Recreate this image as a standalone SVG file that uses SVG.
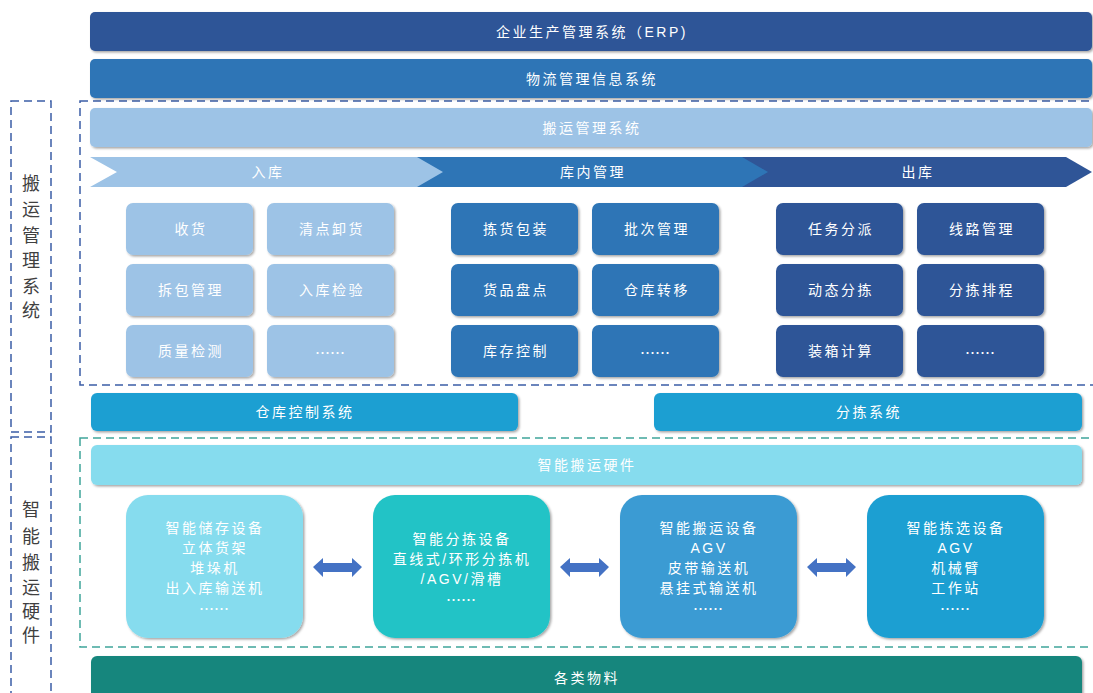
<svg xmlns="http://www.w3.org/2000/svg" width="1093" height="693" viewBox="0 0 1093 693">
  <defs>
    <filter id="shadow" x="-5%" y="-20%" width="110%" height="150%">
      <feDropShadow dx="1.5" dy="1.5" stdDeviation="1.2" flood-color="#000" flood-opacity="0.35"/>
    </filter>
  </defs>
  <style>
    text { font-family: "Liberation Sans", "Noto Sans CJK SC", sans-serif; }
    .lbl { fill: #ffffff; font-size: 14px; letter-spacing: 2.5px; text-anchor: middle; dominant-baseline: central; }
    .hw { fill: #ffffff; font-size: 14px; letter-spacing: 2.5px; text-anchor: middle; dominant-baseline: central; }
    .dots { font-family: "Noto Sans CJK SC", sans-serif; letter-spacing: 0; font-size: 15px; }
    .side { fill: #404040; font-size: 18px; text-anchor: middle; dominant-baseline: central; }
    .bar { filter: url(#shadow); }
    .box { filter: url(#shadow); }
    .dash-blue { fill: none; stroke: #3b5ea6; stroke-width: 1.5; stroke-dasharray: 8 5; }
    .dash-teal { fill: none; stroke: #3fa59b; stroke-width: 1.5; stroke-dasharray: 8 5; }
    .in { fill: #9dc3e6; }
    .mid { fill: #2e75b6; }
    .out { fill: #2f5597; }
    .arrow { fill: #4472c4; }
  </style>

  <!-- side group frames -->
  <g id="side-mgmt">
    <rect class="dash-blue" x="11" y="101" width="40" height="331"/>
    <text class="side" x="31" y="184">搬</text>
    <text class="side" x="31" y="210">运</text>
    <text class="side" x="31" y="236">管</text>
    <text class="side" x="31" y="261">理</text>
    <text class="side" x="31" y="287">系</text>
    <text class="side" x="31" y="311">统</text>
  </g>
  <g id="side-hw">
    <rect class="dash-blue" x="11" y="437" width="40" height="260"/>
    <text class="side" x="31" y="510">智</text>
    <text class="side" x="31" y="537">能</text>
    <text class="side" x="31" y="563">搬</text>
    <text class="side" x="31" y="588">运</text>
    <text class="side" x="31" y="612">硬</text>
    <text class="side" x="31" y="636">件</text>
  </g>

  <!-- frames around the two layers -->
  <rect id="frame-mgmt" class="dash-blue" x="80" y="101" width="1030" height="284"/>
  <rect id="frame-hw" class="dash-teal" x="80" y="438" width="1030" height="209"/>

  <!-- top system bars -->
  <g id="erp">
    <rect class="bar" x="90" y="12" width="1002" height="39" rx="5" fill="#2f5597"/>
    <text class="lbl" x="592" y="32">企业生产管理系统（ERP)</text>
  </g>
  <g id="wms-info">
    <rect class="bar" x="90" y="59" width="1002" height="39" rx="5" fill="#2e75b6"/>
    <text class="lbl" x="592" y="79">物流管理信息系统</text>
  </g>
  <g id="handling-mgmt">
    <rect class="bar" x="90" y="108" width="1002" height="39" rx="5" fill="#9dc3e6"/>
    <text class="lbl" x="592" y="128">搬运管理系统</text>
  </g>

  <!-- process chevrons -->
  <g id="stage-out">
    <polygon class="out" points="742,157 1066,157 1092,172 1066,187 742,187"/>
    <text class="lbl" x="918" y="172">出库</text>
  </g>
  <g id="stage-mid">
    <polygon class="mid" points="417,157 742,157 768,172 742,187 417,187"/>
    <text class="lbl" x="593" y="172">库内管理</text>
  </g>
  <g id="stage-in">
    <polygon class="in" points="90,157 417,157 443,172 417,187 90,187 117,172"/>
    <text class="lbl" x="268" y="172">入库</text>
  </g>

  <!-- inbound functions -->
  <g id="in-1"><rect class="box in" x="126" y="203" width="127" height="52" rx="7"/><text class="lbl" x="191" y="229">收货</text></g>
  <g id="in-2"><rect class="box in" x="267" y="203" width="127" height="52" rx="7"/><text class="lbl" x="332" y="229">清点卸货</text></g>
  <g id="in-3"><rect class="box in" x="126" y="264" width="127" height="52" rx="7"/><text class="lbl" x="191" y="290">拆包管理</text></g>
  <g id="in-4"><rect class="box in" x="267" y="264" width="127" height="52" rx="7"/><text class="lbl" x="332" y="290">入库检验</text></g>
  <g id="in-5"><rect class="box in" x="126" y="325" width="127" height="52" rx="7"/><text class="lbl" x="191" y="351">质量检测</text></g>
  <g id="in-6"><rect class="box in" x="267" y="325" width="127" height="52" rx="7"/><text class="lbl dots" x="330" y="352">……</text></g>

  <!-- in-warehouse functions -->
  <g id="mid-1"><rect class="box mid" x="451" y="203" width="127" height="52" rx="7"/><text class="lbl" x="516" y="229">拣货包装</text></g>
  <g id="mid-2"><rect class="box mid" x="592" y="203" width="127" height="52" rx="7"/><text class="lbl" x="657" y="229">批次管理</text></g>
  <g id="mid-3"><rect class="box mid" x="451" y="264" width="127" height="52" rx="7"/><text class="lbl" x="516" y="290">货品盘点</text></g>
  <g id="mid-4"><rect class="box mid" x="592" y="264" width="127" height="52" rx="7"/><text class="lbl" x="657" y="290">仓库转移</text></g>
  <g id="mid-5"><rect class="box mid" x="451" y="325" width="127" height="52" rx="7"/><text class="lbl" x="516" y="351">库存控制</text></g>
  <g id="mid-6"><rect class="box mid" x="592" y="325" width="127" height="52" rx="7"/><text class="lbl dots" x="655" y="352">……</text></g>

  <!-- outbound functions -->
  <g id="out-1"><rect class="box out" x="776" y="203" width="127" height="52" rx="7"/><text class="lbl" x="841" y="229">任务分派</text></g>
  <g id="out-2"><rect class="box out" x="917" y="203" width="127" height="52" rx="7"/><text class="lbl" x="982" y="229">线路管理</text></g>
  <g id="out-3"><rect class="box out" x="776" y="264" width="127" height="52" rx="7"/><text class="lbl" x="841" y="290">动态分拣</text></g>
  <g id="out-4"><rect class="box out" x="917" y="264" width="127" height="52" rx="7"/><text class="lbl" x="982" y="290">分拣排程</text></g>
  <g id="out-5"><rect class="box out" x="776" y="325" width="127" height="52" rx="7"/><text class="lbl" x="841" y="351">装箱计算</text></g>
  <g id="out-6"><rect class="box out" x="917" y="325" width="127" height="52" rx="7"/><text class="lbl dots" x="980" y="352">……</text></g>

  <!-- control systems -->
  <g id="wcs">
    <rect class="bar" x="91" y="393" width="427" height="38" rx="6" fill="#1f9fd2"/>
    <text class="lbl" x="305" y="412">仓库控制系统</text>
  </g>
  <g id="sorting-sys">
    <rect class="bar" x="654" y="393" width="428" height="38" rx="6" fill="#1f9fd2"/>
    <text class="lbl" x="869" y="412">分拣系统</text>
  </g>

  <!-- hardware layer -->
  <g id="hw-bar">
    <rect class="bar" x="91" y="445" width="991" height="40" rx="6" fill="#86dcee"/>
    <text class="lbl" x="587" y="465">智能搬运硬件</text>
  </g>
  <g id="hw-storage">
    <rect class="box" x="126" y="495" width="177" height="143" rx="22" fill="#86dcee"/>
    <text class="hw" x="215" y="528">智能储存设备</text>
    <text class="hw" x="215" y="548">立体货架</text>
    <text class="hw" x="215" y="568">堆垛机</text>
    <text class="hw" x="215" y="588">出入库输送机</text>
    <text class="hw dots" x="214" y="608">……</text>
  </g>
  <g id="hw-sorting">
    <rect class="box" x="373" y="495" width="177" height="143" rx="22" fill="#22c3c6"/>
    <text class="hw" x="462" y="539">智能分拣设备</text>
    <text class="hw" x="462" y="559">直线式/环形分拣机</text>
    <text class="hw" x="462" y="579">/AGV/滑槽</text>
    <text class="hw dots" x="461" y="599">……</text>
  </g>
  <g id="hw-handling">
    <rect class="box" x="620" y="495" width="177" height="143" rx="22" fill="#3b9bd3"/>
    <text class="hw" x="709" y="528">智能搬运设备</text>
    <text class="hw" x="709" y="548">AGV</text>
    <text class="hw" x="709" y="568">皮带输送机</text>
    <text class="hw" x="709" y="588">悬挂式输送机</text>
    <text class="hw dots" x="708" y="608">……</text>
  </g>
  <g id="hw-picking">
    <rect class="box" x="867" y="495" width="177" height="143" rx="22" fill="#1e9fd2"/>
    <text class="hw" x="956" y="528">智能拣选设备</text>
    <text class="hw" x="956" y="548">AGV</text>
    <text class="hw" x="956" y="568">机械臂</text>
    <text class="hw" x="956" y="588">工作站</text>
    <text class="hw dots" x="955" y="608">……</text>
  </g>

  <!-- materials -->
  <g id="materials">
    <rect class="bar" x="91" y="656" width="991" height="45" rx="6" fill="#17867d"/>
    <text class="lbl" x="587" y="678">各类物料</text>
  </g>

  <!-- two-way links between hardware units -->
  <g id="connectors">
    <polygon class="arrow" points="313,567 323,558 323,563 352,563 352,558 362,567 352,577 352,572 323,572 323,577"/>
    <polygon class="arrow" points="560,567 570,558 570,563 599,563 599,558 609,567 599,577 599,572 570,572 570,577"/>
    <polygon class="arrow" points="807,567 817,558 817,563 846,563 846,558 856,567 846,577 846,572 817,572 817,577"/>
  </g>
</svg>
